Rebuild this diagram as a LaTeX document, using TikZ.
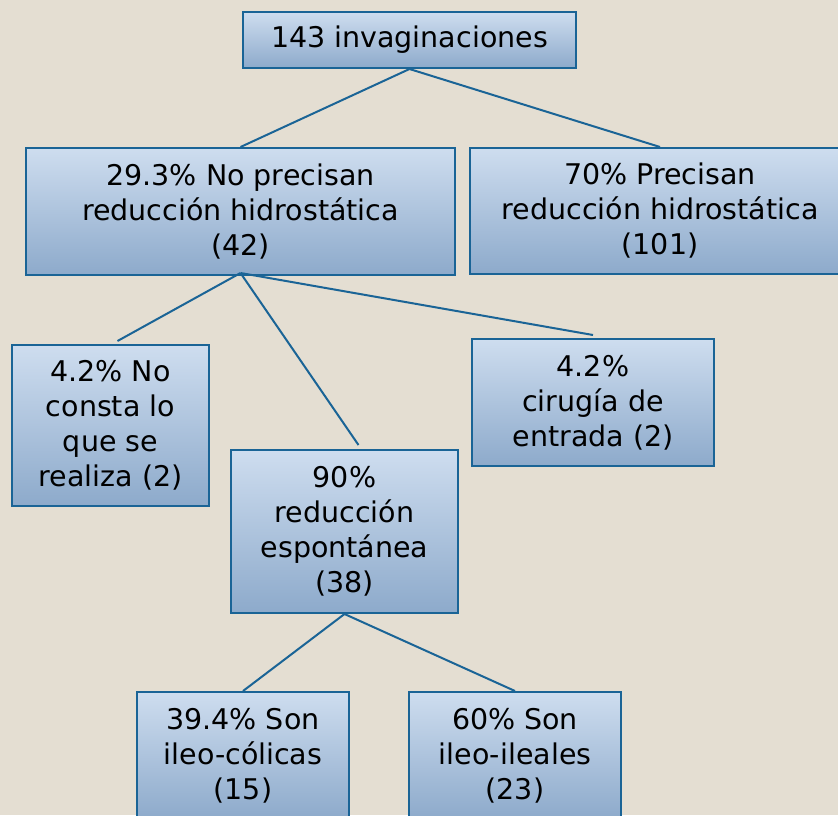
\documentclass[tikz,border=0pt]{standalone}
\usepackage{fontspec}
\setmainfont{DejaVu Sans}
\usetikzlibrary{positioning}

\definecolor{bgbeige}{RGB}{228,222,210}
\definecolor{boxline}{RGB}{26,100,150}
\definecolor{boxtop}{RGB}{206,221,239}
\definecolor{boxbottom}{RGB}{141,170,203}

\begin{document}
\begin{tikzpicture}[x=1pt, y=-1pt]
      \tikzset{
	  box/.style={rectangle, draw=boxline, line width=2pt, top color=boxtop, bottom color=boxbottom, inner sep=0pt, align=center, text=black, font=\fontsize{28.5}{35}\selectfont},
	  link/.style={boxline, line width=2pt},
      }
      \clip (0,0) rectangle (838,815);
      \fill[bgbeige] (0,0) rectangle (838,815);

      % root
      \node (root) at (409.5, 40) [box, minimum width=333pt, minimum height=56pt] {\raisebox{-2pt}{143 invaginaciones}};

      % second level
      \node (noprec) at (240.5, 211.5) [box, minimum width=429pt, minimum height=127pt] {29.3\% No precisan\\reducción hidrostática\\(42)};
      \node (prec) at (660, 211) [box, minimum width=380pt, minimum height=126pt] {70\% Precisan\\reducción hidrostática\\(101)};

      % third level
      \node (nocon) at (110.5, 425.5) [box, minimum width=197pt, minimum height=161pt] {4.2\% No\\consta lo\\que se\\realiza (2)};
      \node (cirug) at (593, 402.5) [box, minimum width=242pt, minimum height=127pt] {4.2\%\\cirugía de\\entrada (2)};
      \node (espon) at (344.5, 531.5) [box, minimum width=227pt, minimum height=163pt] {90\%\\reducción\\espontánea\\(38)};

      % fourth level
      \node (colic) at (243, 755.5) [box, minimum width=212pt, minimum height=127pt] {39.4\% Son\\ileo-cólicas\\(15)};
      \node (ileal) at (515, 755.5) [box, minimum width=212pt, minimum height=127pt] {60\% Son\\ileo-ileales\\(23)};

      \draw [link] (root.south) -- (noprec.north);
      \draw [link] (root.south) -- (prec.north);
      \draw [link] ([yshift=3pt]noprec.south) -- ([xshift=7pt,yshift=3pt]nocon.north);
      \draw [link] ([yshift=3pt]noprec.south) -- ([xshift=14pt,yshift=4pt]espon.north);
      \draw [link] ([yshift=3pt]noprec.south) -- ([yshift=3pt]cirug.north);
      \draw [link] (espon.south) -- (colic.north);
      \draw [link] (espon.south) -- (ileal.north);
    \end{tikzpicture}
\end{document}
